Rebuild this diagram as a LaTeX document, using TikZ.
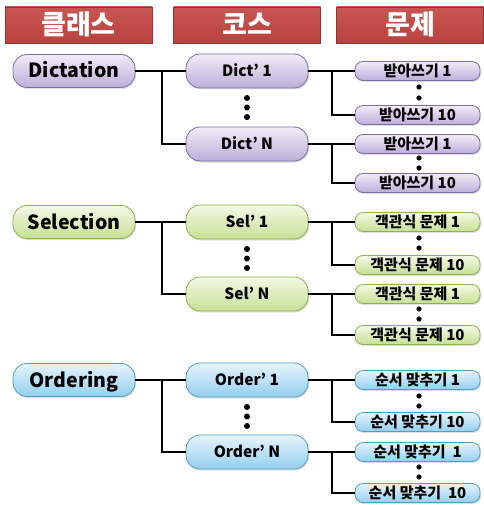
\documentclass[tikz,border=0pt]{standalone}
\usepackage{fontspec}
\setmainfont{Noto Sans CJK KR}
\usetikzlibrary{shadows}
\definecolor{hdrT}{HTML}{C85652}
\definecolor{hdrBo}{HTML}{B8423E}
\definecolor{hdrL}{HTML}{8E3533}
\definecolor{puT}{HTML}{F1EDF8}
\definecolor{puB}{HTML}{BCAEDA}
\definecolor{puL}{HTML}{7E6CA8}
\definecolor{grT}{HTML}{F4F9E6}
\definecolor{grB}{HTML}{C6DF94}
\definecolor{grL}{HTML}{8FB04E}
\definecolor{blT}{HTML}{E6F4FC}
\definecolor{blB}{HTML}{94CFEE}
\definecolor{blL}{HTML}{4E9FC4}
\tikzset{
  hdr/.style={draw=hdrL, line width=0.8pt, top color=hdrT, bottom color=hdrBo,
    minimum width=147pt, minimum height=36pt, inner sep=0pt, text=white,
    text height=19pt, text depth=0pt,
    font=\bfseries\fontsize{27}{27}\selectfont},
  base/.style={draw, line width=0.8pt, inner sep=0pt,
    drop shadow={opacity=0.25, shadow xshift=1pt, shadow yshift=-1.5pt}},
  cls/.style={base, minimum width=122pt, minimum height=33pt, rounded corners=14pt,
    text height=14pt, text depth=0pt,
    font=\bfseries\fontsize{19.5}{19.5}\selectfont},
  crs/.style={base, minimum width=122pt, minimum height=34pt, rounded corners=14pt,
    text height=11.5pt, text depth=0pt,
    font=\bfseries\fontsize{15.5}{15.5}\selectfont},
  prb/.style={base, minimum width=125pt, minimum height=19pt, rounded corners=8pt,
    text height=11pt, text depth=0pt,
    font=\bfseries\fontsize{15}{15}\selectfont},
  pu/.style={draw=puL, top color=puT, bottom color=puB},
  gr/.style={draw=grL, top color=grT, bottom color=grB},
  bl/.style={draw=blL, top color=blT, bottom color=blB},
  conn/.style={draw=black, line width=1.4pt},
  bigdot/.style={fill=black},
}
\begin{document}
\begin{tikzpicture}[x=1pt,y=-1pt]
\useasboundingbox (0,0) rectangle (483,505);
% headers
\node[hdr] (h1) at (78.5,25) {클래스};
\node[hdr] (h2) at (247,25) {코스};
\node[hdr] (h3) at (410,25) {문제};

% ---------- Dictation ----------
\node[cls,pu] (d) at (74,71) {Dictation};
\node[crs,pu] (d1) at (247,71) {Dict’ 1};
\node[crs,pu] (dN) at (247,144) {Dict’ N};
\node[prb,pu] (d11) at (417.5,71) {받아쓰기 1};
\node[prb,pu] (d110) at (417.5,115) {받아쓰기 10};
\node[prb,pu] (dN1) at (417.5,144) {받아쓰기 1};
\node[prb,pu] (dN10) at (417.5,183) {받아쓰기 10};
\coordinate (dj) at (162,71);
\coordinate (d1j) at (332,71);
\coordinate (dNj) at (332,144);
\draw[conn] (d.east) -- (d1.west);
\draw[conn] (dj) |- (dN.west);
\draw[conn] (d1.east) -- (d11.west);
\draw[conn] (d1j) |- (d110.west);
\draw[conn] (dN.east) -- (dN1.west);
\draw[conn] (dNj) |- (dN10.west);
\fill[bigdot] (247,98) circle (3pt) (247,107.5) circle (3pt) (247,117) circle (3pt);
\fill[bigdot] (419,87) circle (2.6pt) (419,98) circle (2.6pt);
\fill[bigdot] (419,158) circle (2.6pt) (419,168) circle (2.6pt);

% ---------- Selection ----------
\node[cls,gr] (s) at (74,222) {Selection};
\node[crs,gr] (s1) at (247,222) {Sel’ 1};
\node[crs,gr] (sN) at (247,294) {Sel’ N};
\node[prb,gr] (s11) at (417.5,222) {객관식 문제 1};
\node[prb,gr] (s110) at (417.5,265) {객관식 문제 10};
\node[prb,gr] (sN1) at (417.5,294) {객관식 문제 1};
\node[prb,gr] (sN10) at (417.5,335) {객관식 문제 10};
\coordinate (sj) at (162,222);
\coordinate (s1j) at (332,222);
\coordinate (sNj) at (332,294);
\draw[conn] (s.east) -- (s1.west);
\draw[conn] (sj) |- (sN.west);
\draw[conn] (s1.east) -- (s11.west);
\draw[conn] (s1j) |- (s110.west);
\draw[conn] (sN.east) -- (sN1.west);
\draw[conn] (sNj) |- (sN10.west);
\fill[bigdot] (247,249) circle (3pt) (247,258.5) circle (3pt) (247,268) circle (3pt);
\fill[bigdot] (419,238) circle (2.6pt) (419,248) circle (2.6pt);
\fill[bigdot] (419,309) circle (2.6pt) (419,319) circle (2.6pt);

% ---------- Ordering ----------
\node[cls,bl] (o) at (74,380) {Ordering};
\node[crs,bl] (o1) at (247,380) {Order’ 1};
\node[crs,bl] (oN) at (247,452) {Order’ N};
\node[prb,bl] (o11) at (417.5,380) {순서 맞추기 1};
\node[prb,bl] (o110) at (417.5,422) {순서 맞추기 10};
\node[prb,bl] (oN1) at (417.5,452) {순서 맞추기\ \ 1};
\node[prb,bl] (oN10) at (417.5,493) {순서 맞추기\ \ 10};
\coordinate (oj) at (162,380);
\coordinate (o1j) at (332,380);
\coordinate (oNj) at (332,452);
\draw[conn] (o.east) -- (o1.west);
\draw[conn] (oj) |- (oN.west);
\draw[conn] (o1.east) -- (o11.west);
\draw[conn] (o1j) |- (o110.west);
\draw[conn] (oN.east) -- (oN1.west);
\draw[conn] (oNj) |- (oN10.west);
\fill[bigdot] (247,407) circle (3pt) (247,416.5) circle (3pt) (247,426) circle (3pt);
\fill[bigdot] (419,396) circle (2.6pt) (419,406) circle (2.6pt);
\fill[bigdot] (419,467) circle (2.6pt) (419,477) circle (2.6pt);
\end{tikzpicture}
\end{document}
